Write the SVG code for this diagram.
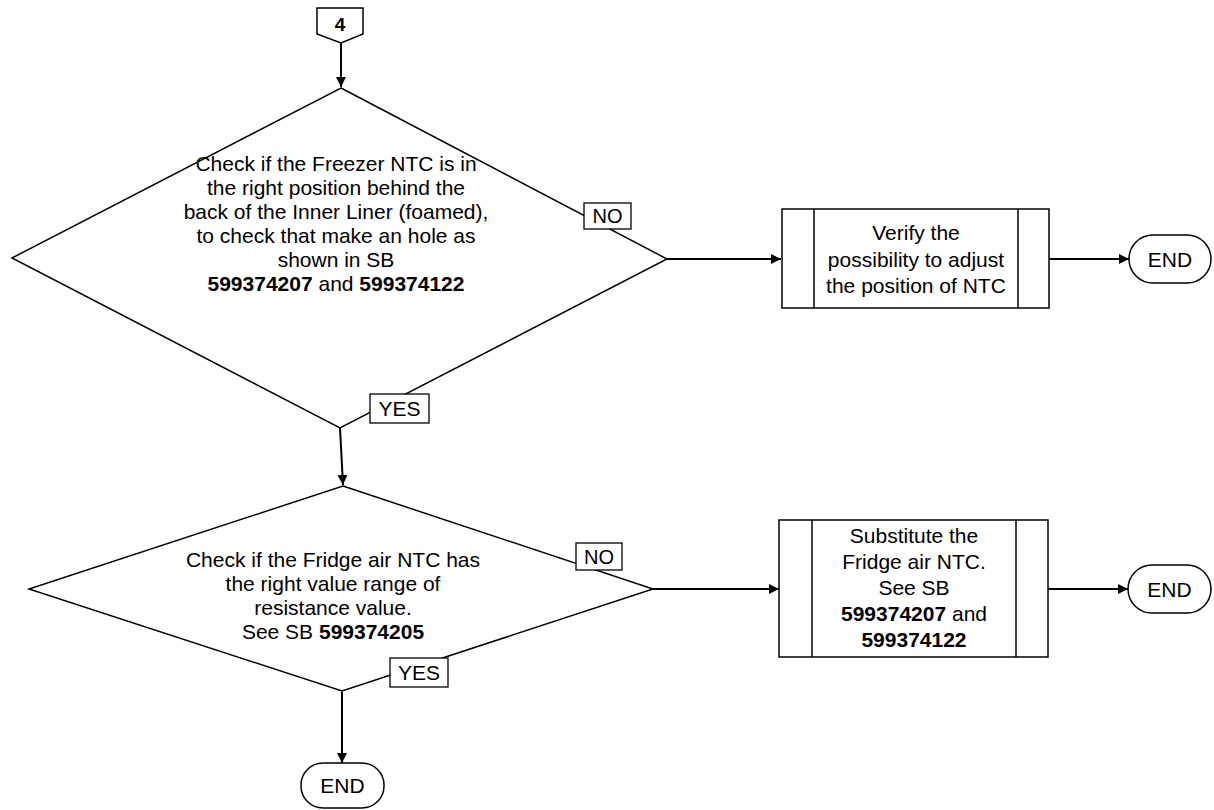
<svg xmlns="http://www.w3.org/2000/svg" width="1214" height="810" viewBox="0 0 1214 810">
<style>
.s{fill:#fff;stroke:#000;stroke-width:1.5}
.t{font-family:"Liberation Sans",Arial,sans-serif;font-size:21px;fill:#000;text-anchor:middle}
.b{font-weight:bold}
.c{fill:none;stroke:#000;stroke-width:2}
.l{fill:#fff;stroke:#000;stroke-width:1.3}
</style>
<defs>
<marker id="a" viewBox="0 0 10 10" refX="10" refY="5" markerWidth="5" markerHeight="5" orient="auto" markerUnits="strokeWidth">
<path d="M0,0 L10,5 L0,10 z" fill="#000"/>
</marker>
</defs>
<rect width="1214" height="810" fill="#fff"/>
<g id="connectors">
<path class="c" d="M341,43 L341,87" marker-end="url(#a)"/>
<path class="c" d="M667,259 L781,259" marker-end="url(#a)"/>
<path class="c" d="M1049,259 L1129,259" marker-end="url(#a)"/>
<path class="c" d="M340,428 L343,485" marker-end="url(#a)"/>
<path class="c" d="M653,589 L779,589" marker-end="url(#a)"/>
<path class="c" d="M1048,589 L1128,589" marker-end="url(#a)"/>
<path class="c" d="M342,692 L342,763" marker-end="url(#a)"/>
</g>
<g id="offpage4">
<polygon class="s" points="317,8 363,8 363,34 341,43 317,34"/>
<text class="t b" x="340" y="31" style="font-size:19px">4</text>
</g>
<g id="decision1">
<polygon class="s" points="341,88 667,259 340,428 12,258"/>
<text class="t" x="336" y="171">Check if the Freezer NTC is in</text>
<text class="t" x="336" y="195">the right position behind the</text>
<text class="t" x="336" y="219">back of the Inner Liner (foamed),</text>
<text class="t" x="336" y="243">to check that make an hole as</text>
<text class="t" x="336" y="267">shown in SB</text>
<text class="t" x="336" y="291"><tspan class="b">599374207</tspan> and <tspan class="b">599374122</tspan></text>
</g>
<g id="label-no1">
<rect class="l" x="584" y="203" width="47" height="26"/>
<text class="t" x="607.5" y="223" style="font-size:20px">NO</text>
</g>
<g id="label-yes1">
<rect class="l" x="370" y="394" width="59" height="29"/>
<text class="t" x="399.5" y="416">YES</text>
</g>
<g id="process1">
<rect class="s" x="782" y="209" width="267" height="99"/>
<line class="s" x1="814" y1="209" x2="814" y2="308"/>
<line class="s" x1="1018" y1="209" x2="1018" y2="308"/>
<text class="t" x="916" y="240">Verify the</text>
<text class="t" x="916" y="267">possibility to adjust</text>
<text class="t" x="916" y="293">the position of NTC</text>
</g>
<g id="end1">
<rect class="s" x="1129" y="235" width="82" height="48" rx="24" ry="24"/>
<text class="t" x="1170" y="267">END</text>
</g>
<g id="decision2">
<polygon class="s" points="343,486 653,589 342,691 29,589"/>
<text class="t" x="333" y="567">Check if the Fridge air NTC has</text>
<text class="t" x="333" y="591">the right value range of</text>
<text class="t" x="333" y="615">resistance value.</text>
<text class="t" x="333" y="639">See SB <tspan class="b">599374205</tspan></text>
</g>
<g id="label-no2">
<rect class="l" x="576" y="543" width="46" height="27"/>
<text class="t" x="599" y="564" style="font-size:20px">NO</text>
</g>
<g id="label-yes2">
<rect class="l" x="390" y="658" width="58" height="29"/>
<text class="t" x="419" y="680">YES</text>
</g>
<g id="process2">
<rect class="s" x="779" y="520" width="269" height="137"/>
<line class="s" x1="812" y1="520" x2="812" y2="657"/>
<line class="s" x1="1016" y1="520" x2="1016" y2="657"/>
<text class="t" x="914" y="543">Substitute the</text>
<text class="t" x="914" y="569">Fridge air NTC.</text>
<text class="t" x="914" y="595">See SB</text>
<text class="t" x="914" y="621"><tspan class="b">599374207</tspan> and</text>
<text class="t" x="914" y="647"><tspan class="b">599374122</tspan></text>
</g>
<g id="end2">
<rect class="s" x="1128" y="565" width="83" height="48" rx="24" ry="24"/>
<text class="t" x="1169.5" y="597">END</text>
</g>
<g id="end3">
<rect class="s" x="301" y="763" width="83" height="45" rx="22" ry="22"/>
<text class="t" x="342.5" y="793">END</text>
</g>
</svg>
